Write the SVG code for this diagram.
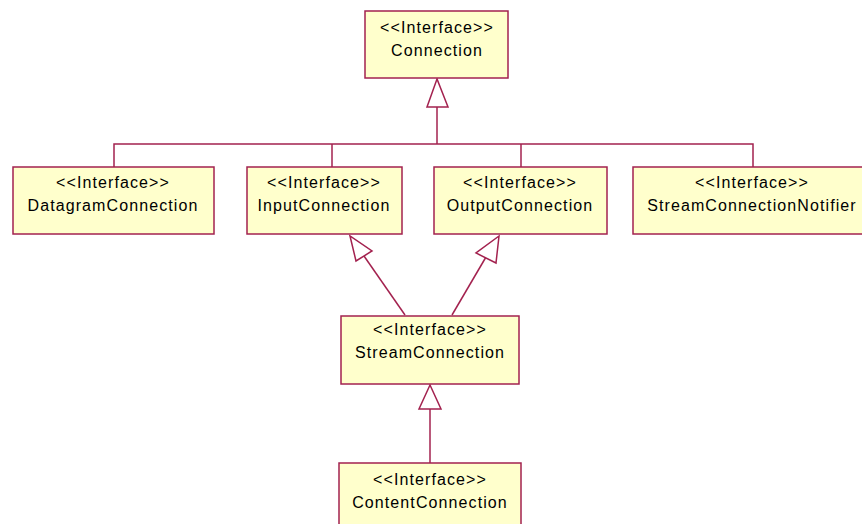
<svg xmlns="http://www.w3.org/2000/svg" width="862" height="524" viewBox="0 0 862 524">
  <style>
    .box { fill: #ffffcc; stroke: #a3224f; stroke-width: 1.5; }
    .edge { fill: none; stroke: #a3224f; stroke-width: 1.5; }
    .head { fill: #ffffff; stroke: #a3224f; stroke-width: 1.5; stroke-linejoin: miter; }
    text { font-family: "Liberation Sans", Arial, sans-serif; font-size: 16px; fill: #000; text-anchor: middle; letter-spacing: 1.1px; }
  </style>
  <rect width="862" height="524" fill="#ffffff"/>

  <g id="connectors">
    <!-- generalization bus to Connection -->
    <polyline class="edge" points="437,107 437,144"/>
    <polyline class="edge" points="114,167 114,144 753,144 753,167"/>
    <polyline class="edge" points="332,144 332,167"/>
    <polyline class="edge" points="521,144 521,167"/>
    <polygon class="head" points="437,79 427,107 448,107"/>
    <!-- StreamConnection to InputConnection / OutputConnection -->
    <line class="edge" x1="364" y1="256" x2="405" y2="315"/>
    <polygon class="head" points="350,236 356,261 372,251"/>
    <line class="edge" x1="486" y1="257" x2="452" y2="315"/>
    <polygon class="head" points="499,236 476,253 496,263"/>
    <!-- ContentConnection to StreamConnection -->
    <line class="edge" x1="430" y1="409" x2="430" y2="463"/>
    <polygon class="head" points="430,385 419,409 441,409"/>
  </g>

  <g id="Connection">
    <rect class="box" x="365" y="11" width="143" height="67"/>
    <text x="437" y="33">&lt;&lt;Interface&gt;&gt;</text>
    <text x="437" y="56">Connection</text>
  </g>

  <g id="DatagramConnection">
    <rect class="box" x="13" y="167" width="201" height="67"/>
    <text x="113" y="188">&lt;&lt;Interface&gt;&gt;</text>
    <text x="113" y="211">DatagramConnection</text>
  </g>

  <g id="InputConnection">
    <rect class="box" x="247" y="167" width="155" height="67"/>
    <text x="324" y="188">&lt;&lt;Interface&gt;&gt;</text>
    <text x="324" y="211">InputConnection</text>
  </g>

  <g id="OutputConnection">
    <rect class="box" x="434" y="167" width="173" height="67"/>
    <text x="520" y="188">&lt;&lt;Interface&gt;&gt;</text>
    <text x="520" y="211">OutputConnection</text>
  </g>

  <g id="StreamConnectionNotifier">
    <rect class="box" x="633" y="167" width="240" height="67"/>
    <text x="752" y="188">&lt;&lt;Interface&gt;&gt;</text>
    <text x="752" y="211">StreamConnectionNotifier</text>
  </g>

  <g id="StreamConnection">
    <rect class="box" x="341" y="316" width="178" height="68"/>
    <text x="430" y="335">&lt;&lt;Interface&gt;&gt;</text>
    <text x="430" y="358">StreamConnection</text>
  </g>

  <g id="ContentConnection">
    <rect class="box" x="339" y="463" width="182" height="70"/>
    <text x="430" y="485">&lt;&lt;Interface&gt;&gt;</text>
    <text x="430" y="508">ContentConnection</text>
  </g>
</svg>
